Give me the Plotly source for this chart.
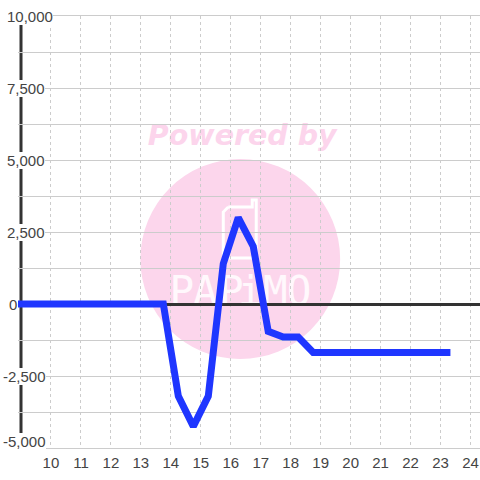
import plotly.graph_objects as go

# Data
x_values = [8.9, 13.75, 14.25, 14.75, 15.25, 15.75, 16.25, 16.75, 17.25, 17.75, 18.25, 18.75, 23.33]
y_values = [0, 0, -3200, -4250, -3200, 1400, 3000, 2000, -950, -1150, -1150, -1680, -1680]
y_label_values = [10000, 7500, 5000, 2500, 0, -2500, -5000]
y_label_texts = ["10,000", "7,500", "5,000", "2,500", "0", "-2,500", "-5,000"]
x_tick_values = list(range(10, 25))
y_axis_position = 9
x_start = 8.9

W, H = 480, 480
L, R, T, B = 17.5, 0, 16, 32
PINK = "#fcd6ec"
INK = "#444444"
FONT = "Liberation Sans"


def px(x):
    return (x - L) / (W - L - R)


def py(y):
    return 1 - (y - T) / (H - T - B)


def label_shape(text, x0, y0, x1, y1, size, color, family):
    font = dict(family=family, size=size, color=color)
    return dict(type="rect", layer="below", xref="paper", yref="paper",
                x0=px(x0), x1=px(x1), y0=py(y1), y1=py(y0),
                line=dict(width=0), fillcolor="rgba(0,0,0,0)",
                label=dict(text=text, font=font, textposition="middle center"))


shapes = [
    dict(type="circle", layer="below", xref="paper", yref="paper",
         x0=px(140), x1=px(340), y0=py(359), y1=py(159),
         line=dict(width=0), fillcolor=PINK),
    label_shape("<b><i>Powered by</i></b>", 122, 113, 362, 153, 28.5, "#fcd5ec", "DejaVu Sans"),
    # white strip left of the y axis, so gridlines stop at the axis
    dict(type="rect", layer="between", xref="x", yref="paper",
         x0=x_start - 0.05, x1=y_axis_position, y0=0, y1=1,
         line=dict(width=0), fillcolor="#ffffff"),
    # y axis line
    dict(type="line", layer="between", xref="x", yref="paper",
         x0=y_axis_position, x1=y_axis_position, y0=0, y1=1,
         line=dict(color="#333333", width=3)),
]

# phone outline of the watermark
pts = [(228, 207), (252, 207), (252, 200), (256, 200), (256, 255), (253, 258),
       (226, 258), (223, 255), (223, 212), (228, 207)]
path = "M " + " L ".join(f"{px(a):.5f} {py(b):.5f}" for a, b in pts)
shapes.append(dict(type="path", layer="below", xref="paper", yref="paper", path=path,
                   line=dict(color="#ffffff", width=3)))

for ch, cx in zip("PAPiMO", [181.5, 205, 231, 250, 275, 299]):
    shapes.append(label_shape(ch, cx - 15, 268, cx + 15, 308, 41, "#fff8fc", "DejaVu Sans Mono"))

annotations = []
for v, t in zip(y_label_values, y_label_texts):
    annotations.append(dict(
        xref="paper", yref="y", x=px(2 if v < 0 else (8 if v == 0 else 6)), y=v,
        xanchor="left", yanchor="middle", text=t, showarrow=False,
        font=dict(family=FONT, size=15, color=INK), bgcolor="#ffffff", borderpad=0,
        borderwidth=0, yshift=7 if v == -5000 else 0,
    ))

fig = go.Figure(go.Scatter(
    x=x_values, y=y_values, mode="lines", cliponaxis=True,
    line=dict(color="#1f36ff", width=7, shape="linear"),
    hoverinfo="skip",
))

fig.update_layout(
    width=W, height=H, autosize=False, showlegend=False,
    margin=dict(l=L, r=R, t=T, b=B, pad=0),
    paper_bgcolor="#ffffff", plot_bgcolor="#ffffff",
    shapes=shapes, annotations=annotations,
    xaxis=dict(
        range=[(L - 50.5) / 30 + 10, (W - 50.5) / 30 + 10],
        tickmode="array", tickvals=x_tick_values, ticktext=[str(v) for v in x_tick_values],
        showgrid=True, gridcolor="#cccccc", gridwidth=1, griddash="3px,3px",
        zeroline=False, showline=True, linecolor="#cccccc", linewidth=1, mirror=True, ticks="",
        tickfont=dict(family=FONT, size=15, color=INK), tickangle=0,
        ticklabelstandoff=1,
    ),
    yaxis=dict(
        range=[-5000, 10000], dtick=1250, tick0=0, tickmode="linear",
        showgrid=True, gridcolor="#cccccc", gridwidth=1,
        zeroline=True, zerolinecolor="#333333", zerolinewidth=3,
        showline=False, ticks="",
        showticklabels=False, layer="below traces",
    ),
)

fig.write_html("out.html", config=dict(displayModeBar=False),
               post_script="document.body.style.margin='0';document.body.style.overflow='hidden';")
